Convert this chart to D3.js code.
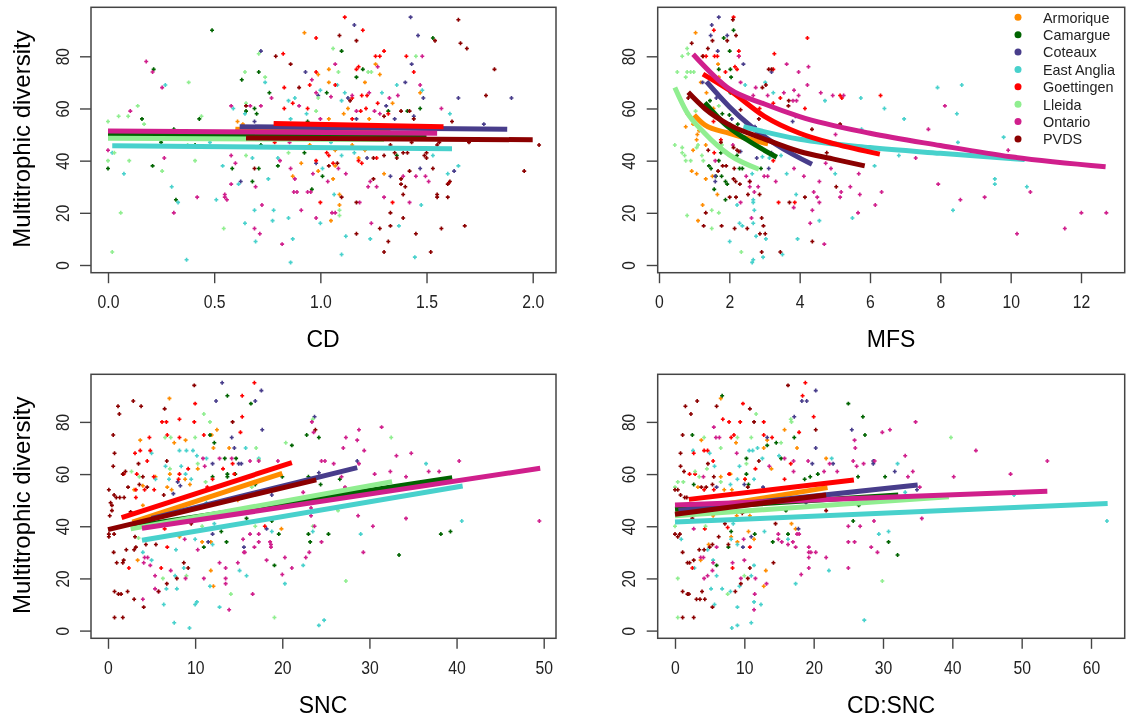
<!DOCTYPE html>
<html lang="en">

<head>
    <meta charset="utf-8">
    <script src="https://d3js.org/d3.v7.min.js"></script>
    <style>
        body { margin: 0; background: white; }
        svg { display: block; filter: blur(0.4px); font-family: "Liberation Sans", Arial, sans-serif; }
        .tick text { font-size: 17.5px; fill: #222; font-family: "Liberation Sans", Arial, sans-serif; }
        .tick line, .domain { stroke: #444; stroke-width: 1.4px; }
    </style>
</head>

<body>
    <div id="my_dataviz"></div>

    <script>
        const regions = ["Armorique", "Camargue", "Coteaux", "East Anglia", "Goettingen", "Lleida", "Ontario", "PVDS"];
        const regionColors = ["#ff8c00", "#006400", "#483d8b", "#48d1cc", "#ff0000", "#90ee90", "#d01f8c", "#8b0000"];

        // CD panel, points
        const cdArmorique = [[.925,89],[.99,73],[1.04,75],[1.26,77],[1.28,73],[1.04,70],[1.21,70],[1.13,60],[1.34,62],[1.11,58],[1.23,56],[1.04,56],[.61,55],[.635,54],[.61,52],[1.47,66],[1.15,46],[1.07,44],[1.3,35],[.87,34],[.91,39],[.99,36],[1.06,33],[1.07,38],[1.09,27],[1.09,23],[1.05,17],[1.18,41],[1.21,44],[.95,46]];
        const cdCamargue = [[.49,90],[.215,75],[1.1,82],[1.53,87],[.71,74],[.63,71],[.76,66],[1.17,72],[1.2,75],[.43,56],[.16,56],[1.47,60],[.65,59],[.69,60],[.7,58],[1.32,59],[1.41,59],[.94,55],[1.03,66],[0,37],[.21,38],[.25,47],[.32,25],[.585,37],[.71,37],[.68,32],[.8,38],[1.01,34],[.96,29],[.925,43],[1.36,42],[1.47,49.5],[.41,46],[.72,46],[.31,52]];
        const cdCoteaux = [[1.16,92],[1.425,95],[1.46,88],[.72,82],[.93,74],[1.43,77],[1.4,70],[.99,65],[1.65,64],[1.9,64],[1.485,64],[1.31,61],[1.13,64],[1.35,56],[1.17,56],[.69,55],[1.44,57],[1.77,54],[.625,32],[.98,39],[1.22,41],[1.33,34],[1.47,37],[1.63,36]];
        const cdEastAnglia = [[.27,69],[1,67],[.74,70],[1.36,69],[1.48,67],[1.29,66],[1.115,66],[.85,63],[.88,64],[.59,60],[1.1,63],[1.08,69],[1.61,58],[.645,58],[.86,56],[.935,58],[.02,43],[.075,35],[.3,30],[.33,24],[.51,25],[.54,38],[.48,47],[.68,41],[.755,33],[.615,31],[.8,41],[1.01,37],[1.1,42],[1.065,27],[.69,21],[.78,21],[.645,16],[.775,17],[.85,18],[1,16],[1.37,15],[1.475,23],[1.53,42],[1.6,35],[1.65,38],[1.05,47],[1.16,43],[.695,9],[.87,10],[1.12,11],[1.235,10],[1.1,4],[1.445,3],[.86,1],[.37,2]];
        const cdGoettingen = [[1.115,95],[1.2,90],[.98,87],[.825,81],[1.26,80],[1.28,80],[1.3,82],[1.405,80],[1.17,75],[1.18,76],[1.44,74],[.98,74],[.83,68],[1.07,69],[.95,69],[.83,60],[.87,62],[.94,60],[1.195,65],[1.22,65],[1.27,62],[1.215,60],[1.19,59],[1.32,58],[1.15,64],[1.15,56],[.785,47],[.98,40],[1.03,43],[1.06,39],[1.18,40],[1.195,39],[1.265,41],[1.04,42],[1.605,31.5],[1,24],[1.34,24]];
        const cdLleida = [[.71,81],[1.06,83],[1.45,80],[1.085,74],[1.225,74],[1.24,74],[.645,74],[.74,72],[.38,70],[.14,61],[.65,62],[0,55],[.05,57],[.095,57],[.17,54],[.44,57],[.99,64],[.98,59],[.03,43],[0,40],[.1,40],[.41,40],[.255,36],[.65,42],[.85,43],[1.09,21],[1.09,19],[.06,20],[.545,14],[.02,5],[.375,46]];
        const cdOntario = [[.18,78],[.21,74],[.255,68],[.105,59],[.58,61],[.67,61],[.72,61],[.77,64],[.9,61],[.96,71],[1.07,77],[1.48,80],[1.27,76],[1.47,69],[.98,66],[1.05,64.5],[1.15,65],[1.23,66],[1.365,65],[1.325,64],[1.57,60],[1.17,59],[1.255,59],[1.28,58],[1,56],[0,44],[.265,41],[.58,42],[.6,39],[.58,31],[.55,27],[.55,26],[.56,25],[.42,26],[.31,20],[.695,30],[.81,40],[.86,37],[.88,33],[.965,35],[1.035,32],[1.085,37],[1.12,35],[1.39,34],[1.45,34],[1.495,34],[1.51,32],[1.235,32],[1.225,30],[1.265,30],[1.3,26],[1.42,24],[1.185,24],[.875,28],[.89,28],[.94,28],[.955,28],[.91,21],[1.055,20],[1.07,20],[.98,18],[.725,23],[.69,14],[.715,12],[.82,8],[1.24,16],[.855,47]];
        const cdPVDS = [[1.09,88],[1.17,86],[1.54,86],[1.65,94],[1.66,85],[1.69,83],[1.82,75],[1.78,65],[.79,80],[.86,77],[.9,68],[.65,61],[1.3,57],[1.62,55],[1.38,59],[1.42,59],[1.14,63],[1.44,56],[2.03,46],[1.96,36],[1.7,47],[1.56,47],[1.43,47],[1.33,46],[1.35,43],[1.39,43],[1.36,41],[1.41,43],[1.3,42],[1.25,41],[1.5,43],[1.49,42],[1.5,41],[1.42,36],[1.38,33],[1.38,31],[1.4,30],[1.39,27],[1.53,37],[1.55,46],[1.55,27],[1.55,26],[1.6,26],[1.6,31],[1.61,32],[1.25,33],[1.17,24],[1.1,26],[1.04,38],[1.08,39],[1.33,20],[1.39,18],[1.28,14],[1.33,15],[1.68,15],[1.57,14],[1.45,12],[1.17,12],[1.32,9],[1.3,5],[1.52,5],[.69,37]];
        const cdLines = [
            [[.6,52],[1.33,51.5]],
            [[0,50.2],[1.5,49.4]],
            [[.62,53],[1.88,52]],
            [[.02,45.7],[1.62,44.6]],
            [[.78,54.2],[1.58,53]],
            [[0,48.6],[1.3,48.1]],
            [[0,51.4],[1.55,50.5]],
            [[.65,48.7],[2,48]]
        ];

        // MFS panel
        const mfsArmorique = [[1.04,89],[1.68,77],[1.19,70],[1.35,66],[.8,58],[.76,53],[.97,54],[1.14,51.5],[1.09,50],[.93,36],[1.07,35],[1.33,33],[1.52,34],[1.66,27],[1.24,23],[1.11,17],[.97,44],[1.33,46],[1.55,60],[2.48,62],[1.7,72],[1.07,48]];
        const mfsCamargue = [[1.84,87],[2.12,90],[2.01,82],[1.7,75],[2.03,75],[2.05,72],[2.03,66],[1.45,63],[2.22,42],[2.29,37],[2.37,37],[1.42,38],[1.48,37],[1.76,43],[1.62,34],[1.78,34],[1.57,29],[1.89,32],[1.94,31],[1.89,25],[2.9,37],[2.01,54],[2,57.5],[1.8,58],[2.24,54],[1.7,40]];
        const mfsCoteaux = [[1.7,95],[1.5,92],[1.94,88],[1.47,88],[1.67,82],[2.4,77],[3.2,74],[1.24,70],[1.63,64],[2.42,64],[2.73,53],[3.12,37],[1.6,32],[1.6,34],[3.2,43],[3.8,55],[3.88,57],[2.07,56],[2.78,41],[2.32,43.5]];
        const mfsEastAnglia = [[3.02,70],[2.45,69],[3.25,66],[4.72,63],[5.74,64],[6.41,60],[6.97,56],[7.92,68],[8.61,69],[8.47,58],[8.5,47],[5.76,52],[9.8,49],[6.13,38],[6.82,42],[9.55,33],[9.55,31],[10.46,30],[8.36,21],[5.5,18],[4.56,17],[3.94,10],[3.9,27],[3.63,35],[5.01,35],[2.65,35],[2.68,25],[2.22,23],[2.71,21],[2.29,16],[2.37,15],[2.68,16],[2.76,11],[3.04,10],[2.01,9],[2.96,3],[3.51,4],[2.68,2],[2.65,1],[2.94,41.5],[3.14,41],[3.47,42],[2.68,24]];
        const mfsGoettingen = [[2.12,95],[1.56,90],[4.22,87],[3.28,81],[2.27,82],[1.58,80],[1.66,80],[2.27,80],[1.26,80],[1.34,80],[1.89,74],[2.16,76],[2.22,75],[3.25,75],[5.15,65],[5.2,64],[6.3,65],[3.45,64],[3.25,62],[4.15,60],[2.86,60],[1.55,55],[3.4,24],[3.86,24],[3.25,40],[1.57,43],[1.76,48]];
        const mfsLleida = [[.8,83],[.66,80],[.83,81],[.52,74],[.8,74],[.9,74],[.99,74],[.76,72],[1.7,61],[1.04,59],[.45,46],[.66,45],[.66,43],[.76,40],[.9,40],[1.11,46],[1.07,45],[1.22,42],[1.26,40],[.73,42],[1.5,21],[1.7,20],[.8,19],[1.5,14],[2.34,5],[1.79,46]];
        const mfsOntario = [[2.27,80],[3.63,77],[4.25,76],[3.97,74],[2.32,70],[4.22,69],[2.75,68],[3.84,67],[3.55,66],[4.6,66],[3.09,65],[3.97,65],[4.94,65],[5.25,65],[3.81,63],[3.91,63],[2.68,65],[8.13,61],[7.66,52],[7.3,41],[9.93,44],[7.94,31],[8.57,25],[9.26,26],[10.56,28],[12.01,20],[12.72,20],[11.54,14],[10.18,12],[6.33,28],[6.15,23],[5.66,20],[5.71,27],[5.44,30],[5.18,28],[5.15,26],[5.68,35],[4.89,37],[4.74,39],[4.56,32],[4.4,28],[4.5,26],[4.56,24],[4.36,21],[4.3,16],[4.7,8],[3.84,37],[4.12,34],[3.83,22],[3.32,32],[3.09,34],[2.99,34],[2.48,34],[2.58,32],[2.58,30],[2.82,30],[2.71,28],[2.32,24],[2.63,18],[5.02,50],[2.1,46],[1.6,40]];
        const mfsPVDS = [[.93,85],[1.52,86],[1.39,83],[2.1,94],[2.19,88],[1.94,86],[1.24,80],[3.12,75],[3.2,75],[2.94,68],[3.04,69],[3.69,63],[3.68,61],[.83,64],[4.35,52],[5.15,54],[4.77,43],[5.04,30],[4.15,26],[3.71,24],[4.36,9],[3.45,5],[2.92,5],[2.97,15],[2.87,12],[3.02,12],[2.92,18],[2.51,14],[2.15,14],[1.78,15],[1.27,15],[1.33,20],[2.01,26],[2.19,26],[2.86,27],[2.53,27],[2.58,32],[2.3,31],[2.12,33],[2.18,32],[2.14,37],[2.27,43.5],[2.22,44],[2.12,45],[1.91,38],[1.81,38],[1.68,36],[1.4,44],[1.76,47],[2.99,50],[2.84,56],[2.32,59.5]];
        const mfsLines = [
            [[1,57.5],[1.3,53.7],[2,50.5],[3.1,46.4]],
            [[1.3,62.2],[1.9,53.7],[2.5,48],[3.35,41.3]],
            [[1.35,70.3],[2,60.7],[2.63,53],[3.35,46],[4.35,38.6]],
            [[2.4,53],[4,48.2],[6,45],[8,42.8],[10.4,40.4]],
            [[1.25,73.2],[2,67],[3,57],[4,50.5],[5,46.4],[6.28,42.5]],
            [[.45,68],[.78,58.8],[1.3,50.5],[2,42.2],[2.84,36.7]],
            [[.97,80.8],[2,67.5],[3,61.7],[4,56.9],[6,50.5],[8,45.8],[10,41.5],[12.7,37.7]],
            [[.83,66.2],[1.3,60],[2,53.7],[2.94,48.6],[4,43.5],[5,40.5],[5.85,38]]
        ];

        // SNC panel
        const sncArmorique = [[7.05,89],[12.5,77],[11.9,75],[3.7,73],[8.9,73],[7.6,72],[12.1,70],[13.9,70],[10.3,62],[8.85,58],[7.1,60],[4,55.5],[3,54],[6.8,55],[7.3,54],[5.45,59],[9.4,56],[14.9,50],[4,48],[19.9,39],[10.8,34],[11.8,34],[8.2,36],[3.4,27],[11.8,23],[12.1,17]];
        const sncCamargue = [[13.7,90],[16.4,87],[22.8,75],[24.2,74],[11.7,75],[21.1,71],[12.2,72],[13.4,66],[14.7,66],[13.7,60],[13.7,59],[14.6,60],[12,59],[20,59],[23,59],[24.4,56],[26.6,58],[16.9,56],[15.9,43],[18.8,42],[13,38],[13.6,34],[19.6,37],[23,37],[23.2,34],[25.3,37],[38.2,37],[39.3,38],[33.4,29],[19.1,25],[11,32]];
        const sncCoteaux = [[13.1,95],[17.6,92],[16.9,88],[12.4,88],[23.7,82],[17.7,77],[14.2,74],[14.5,70],[12,64],[15,64],[15.3,64],[24.2,60.5],[28.6,65],[8,57],[8.3,55.5],[7.5,52.5],[18.8,52],[18.2,39],[12,37],[15.6,32],[11.5,34]];
        const sncEastAnglia = [[5,68],[8.2,69],[9,69],[9.75,69],[10.2,67],[6.6,63],[8.4,63],[8.9,60],[15.8,70],[17.3,66],[11.3,66],[36.5,64],[7,58],[9.55,58],[5.45,58],[11.3,49],[12.2,41],[40.6,42],[29,37],[23.5,38],[18.8,38],[10,35],[12,33],[4,30],[5,27],[8.7,24],[15.1,23],[22.4,25],[7.7,21],[15.9,21],[20.3,18],[6.7,16],[7.9,16],[11.7,17],[6.4,10],[10,10],[10.2,11],[12.8,9],[7.6,3],[9.35,1],[24.2,2],[24.8,4],[7.8,31]];
        const sncGoettingen = [[16.8,95],[15.4,90],[10,87],[15.4,82],[6.2,80],[6.7,80],[9.9,80],[8.2,81],[4.75,74],[6.8,75],[8.2,74],[11,75],[3.7,69],[3.1,68],[4.85,69],[4.5,65],[15.2,76],[13.2,62],[9.2,62],[1.8,60],[3.3,60],[5.25,59],[8.2,60],[8.1,58],[14.3,64],[14.5,60],[12,58],[11.4,55],[3.2,54],[4.2,54],[3.2,51],[5.3,54],[6.5,39],[18,40],[6.8,32],[2.4,24],[6.1,24]];
        const sncLleida = [[11,83],[11.7,80],[23.5,81],[32.5,74],[20.4,72],[6.55,74],[7.2,74],[10,74],[17,70],[17.3,65.5],[2.7,61],[7.1,62],[10.3,64],[3.6,59],[11.2,57],[16.5,55],[26.4,46],[16.9,40],[10.8,40],[23.5,40],[27.3,19],[19.1,5],[9,21],[6.3,20],[14.1,14],[3.5,35.5]];
        const sncOntario = [[23.4,80],[28.8,77],[23.6,76],[31.4,78],[27.3,74],[28.6,73],[27,70],[29.4,69],[33.1,67],[34.8,68],[24.5,65],[24.9,65],[25.9,64],[28.8,64],[40.3,65],[36.8,61],[38,61],[32.4,61],[30.6,60],[34.2,59],[26.8,59],[19.5,65],[16.3,65],[17.3,65],[12.8,66],[10.9,66],[11.1,63],[14.2,66],[22.4,53],[27.2,55],[28.7,44],[34.2,43],[30.4,40],[49.5,42],[29.3,30],[24.5,34],[23.7,40],[23.3,47],[23.3,44],[23.1,30],[22.7,28],[20.3,28],[18.2,27],[20,21.5],[21.1,24],[18.7,33],[18.7,32],[18.6,34],[17.3,34],[17.3,37],[16.3,37],[16.8,32],[15.5,35],[15.6,30],[15.7,30],[14.9,26],[13.5,24],[12.8,26],[13.5,20],[13.5,18],[13.9,8],[16.6,14],[11,20],[10.3,31],[8.8,35],[8.9,20],[7.2,23],[5.4,21],[5.4,16],[5.8,15],[4,12],[4.2,28],[4.55,28],[4.1,26],[4.85,25]];
        const sncPVDS = [[9.9,94],[2.9,88],[1.15,86],[3.8,86],[6.5,85],[1.3,83],[14.3,80],[23.8,77],[.6,75],[.75,68],[.6,63],[6.75,65],[3.5,64],[2,61],[1.7,60],[4,59],[2.3,55],[3.6,56],[4.5,55],[.1,54],[6.4,52],[.7,52],[.95,51],[1.35,51],[1.85,51],[.3,49],[.45,48],[.45,46],[.2,44],[2.6,45.5],[.1,37],[.1,36],[.7,37],[3.1,36],[.65,30],[4.35,33],[5.5,33],[2.1,31],[3,31],[3.2,32],[1,26],[1.7,26],[1.8,27],[8.7,26],[9.2,24],[7.9,20],[6.75,18],[.75,15],[2.25,15],[1.2,14],[1.5,14],[3,12],[5.8,15],[4.1,9],[.75,5],[1.7,5],[9.55,41]];
        const sncLines = [
            [[2.8,41.6],[20,60.3]],
            [[3,40],[39.5,58.6]],
            [[5,43],[28.6,62.5]],
            [[3.9,34.6],[40.7,55.4]],
            [[1.56,43.3],[21.1,64.4]],
            [[2.6,39],[32.6,57.1]],
            [[3.9,39.2],[49.6,62.2]],
            [[0,38.7],[23.9,57.8]]
        ];

        // CD:SNC panel
        const csArmorique = [[6.6,89],[15.8,77],[17.6,70],[3.8,73],[8.8,72],[13.3,73],[12.8,70],[13.9,62],[21.8,66],[10.1,58],[6.6,59],[8,60],[3.3,55],[7.1,54],[8.2,54],[5.5,44],[8.9,44],[10.8,44],[16.8,41],[17.4,39],[4.85,33],[11.4,35],[10.6,38],[8.1,36],[9,34],[3.7,27],[13.1,23],[12.8,17]];
        const csCamargue = [[6.8,90],[25,87],[27.1,82],[27.4,75],[2.5,75],[17.2,74],[14.6,72],[13.3,71],[10.3,66],[15.3,66],[10.3,60],[20.6,60],[18.7,58],[19.5,59],[26.4,59],[30.3,59],[2.7,56],[10.6,56],[26.5,48],[16,46],[25.7,42],[16.3,37],[11.5,37],[14.1,34],[30.8,34],[32.1,29],[7.7,32],[8.1,38],[6,25]];
        const csCoteaux = [[20.3,92],[18.3,88],[19,88],[17.2,82],[25.5,77],[20.3,70],[13.3,74],[19.8,64],[22.8,64],[28.6,65],[28.6,64],[31.7,61],[34.9,54],[12.7,55],[6,55],[10,56],[9.8,32],[11,36],[17.8,39],[18.9,49]];
        const csEastAnglia = [[2.6,69],[5,68],[5.7,63],[9.3,63],[10.7,69],[11.2,69],[11.9,70],[12.6,66],[15,67],[22.6,66],[32.1,64],[11.4,58],[9,58],[8,56],[33.2,53],[48.9,52],[62.3,42],[29.4,37],[30.8,38],[12.9,38],[8.4,41],[.9,35],[8.1,35],[9,33],[16.3,35],[4.7,31],[5.5,27],[2.8,24],[11.4,25],[22.2,23],[6,21],[11,21],[17.4,18],[5.2,16],[6.8,16],[9.3,17],[8,15],[5.7,10],[11.4,11],[12.4,10],[9,9],[8.2,1],[9,2],[11,3],[27.3,4]];
        const csGoettingen = [[18.8,95],[18.4,90],[9.8,87],[20,82],[6.9,81],[7.8,80],[9.4,80],[12.8,80],[17.9,76],[8.5,75],[12.8,75],[8.1,74],[14,74],[4.2,69],[4.7,69],[2.7,68],[5.5,65],[16.7,64],[11.6,62],[2.1,60],[2.9,60],[7.8,60],[10.1,58],[15.8,58],[4.2,54],[5.6,54],[7.6,39.5],[4.3,39],[10.8,32],[8.3,24],[2.5,24]];
        const csLleida = [[11.7,83],[16.7,81],[16.8,80],[39.8,74],[4.2,74],[9,74],[11,74],[15.3,72],[6.6,70],[10.3,64],[0,55],[.4,57],[1.2,57],[2.9,61],[4.6,62],[6.6,57],[3.5,59],[0,40],[4.4,40],[.4,20],[10,21],[7.6,14],[29.9,19],[.4,5]];
        const csOntario = [[34.7,80],[29.9,76],[31,77],[25.9,73],[26,70],[43.4,69],[33.2,67],[53.7,65],[25.7,65],[19.2,65],[28.8,65],[26.2,63],[27.2,64],[17.1,65],[15.8,66],[13.6,63],[6.4,74],[5.9,74],[5.6,78],[8.9,68],[22.3,64],[23.4,61],[21.5,61],[17.1,61],[34.3,61],[33.6,59],[40.2,59],[48.4,60],[35.3,55],[35.6,43],[28.7,42],[26.7,40],[25,40],[25,34],[25.9,34],[28.3,32],[29.2,30],[25,24],[21.8,28],[19.3,32],[19.3,30],[19.6,30],[20.3,30],[19.3,28],[19.3,24],[18.2,21.5],[17.4,32],[17,34],[16.3,33],[14.9,37],[14.9,35],[15.4,34],[17.6,37],[17.9,37],[13.2,18],[11.6,20],[11.5,14],[11.4,8],[10,27],[8.3,26],[9.5,20],[9.9,35],[6,32],[5.5,26],[5.4,23],[4.7,21],[4.2,20],[4.1,28],[3.7,28],[2.7,39],[4.1,59]];
        const csPVDS = [[16.3,94],[3.2,88],[1.5,86],[6,86],[10.8,85],[2.3,83],[11.4,80],[20.3,77],[1.1,75],[.8,68],[.8,63],[1.3,61],[12.1,65],[4.75,64],[5.6,59],[3.8,55],[4.5,55],[5.4,56],[10.5,55],[0,54],[.4,54],[.8,52],[1.4,51],[1.7,51],[21.8,46],[2.5,43],[9.7,45],[14.5,41],[7.2,41],[0,37],[.4,36],[.7,37],[6.3,36],[3.5,31],[4.2,31],[5,32],[5.4,33],[1.1,30],[1.8,26],[2.1,26],[2.7,27],[14.2,26],[10.8,24],[10.5,20],[9.5,18],[8.7,15],[1.1,15],[3.9,15],[1.8,14],[2,14],[3.1,12],[3.6,12],[4.3,12],[5.4,9],[1.1,5],[2.7,5],[7.7,33]];
        const csLines = [
            [[.2,45.5],[22,54.8]],
            [[0,46.5],[32.2,52]],
            [[.5,46],[35,55.8]],
            [[0,41.6],[62.4,48.7]],
            [[2,50.3],[25.8,57.7]],
            [[0,44],[39.5,51.3]],
            [[0,48.1],[53.7,53.4]],
            [[0,44.6],[21.8,52]]
        ];

        const yTicks = [0, 20, 40, 60, 80];
        const cdTicks = [0, 0.5, 1, 1.5, 2];
        const mfsTicks = [0, 2, 4, 6, 8, 10, 12];
        const sncTicks = [0, 10, 20, 30, 40, 50];
        const csTicks = [0, 10, 20, 30, 40, 50, 60];

        const width = 1127, height = 725;

        const svg = d3.select("#my_dataviz")
            .append("svg")
            .attr("width", width)
            .attr("height", height);

        // box edges and the pixel span of the first and last tick of each panel
        const panels = [
            { label: "CD", ylab: true, box: [91, 556, 7.3, 272.7], x0: 108, x1: 532.7, dom: [0, 2], ticks: cdTicks, fmt: d3.format(".1f"), pts: [cdArmorique, cdCamargue, cdCoteaux, cdEastAnglia, cdGoettingen, cdLleida, cdOntario, cdPVDS], lines: cdLines, labelX: 323, labelY: 347 },
            { label: "MFS", ylab: false, box: [657.7, 1124.7, 7.3, 272.7], x0: 659, x1: 1081, dom: [0, 12], ticks: mfsTicks, fmt: d3.format("d"), pts: [mfsArmorique, mfsCamargue, mfsCoteaux, mfsEastAnglia, mfsGoettingen, mfsLleida, mfsOntario, mfsPVDS], lines: mfsLines, labelX: 891, labelY: 347 },
            { label: "SNC", ylab: true, box: [91, 556, 374.3, 638.3], x0: 108, x1: 543.7, dom: [0, 50], ticks: sncTicks, fmt: d3.format("d"), pts: [sncArmorique, sncCamargue, sncCoteaux, sncEastAnglia, sncGoettingen, sncLleida, sncOntario, sncPVDS], lines: sncLines, labelX: 323, labelY: 713 },
            { label: "CD:SNC", ylab: false, box: [657.7, 1124.7, 374.3, 638.3], x0: 675, x1: 1091, dom: [0, 60], ticks: csTicks, fmt: d3.format("d"), pts: [csArmorique, csCamargue, csCoteaux, csEastAnglia, csGoettingen, csLleida, csOntario, csPVDS], lines: csLines, labelX: 891, labelY: 713 }
        ];

        // symbolPlus is a stroked symbol in d3 v7
        const plus = d3.symbol().type(d3.symbolPlus).size(6);

        panels.forEach(p => {
            const [left, right, top, bottom] = p.box;
            const x = d3.scaleLinear().domain(p.dom).range([p.x0, p.x1]);
            // 0 sits 7.7px above the box bottom, 80 sits 208.7px above that
            const y = d3.scaleLinear().domain([0, 80]).range([bottom - 7.7, bottom - 7.7 - 208.7]);

            p.pts.forEach((pts, i) => {
                svg.append("g").selectAll("path")
                    .data(pts)
                    .join("path")
                    .attr("d", plus)
                    .attr("transform", d => `translate(${x(d[0])},${y(d[1])})`)
                    .attr("fill", "none")
                    .attr("stroke", regionColors[i])
                    .attr("stroke-width", 1.6);
            });

            const line = d3.line().x(d => x(d[0])).y(d => y(d[1])).curve(d3.curveMonotoneX);
            p.lines.forEach((l, i) => {
                svg.append("path")
                    .attr("d", line(l))
                    .attr("fill", "none")
                    .attr("stroke", regionColors[i])
                    .attr("stroke-width", 5);
            });

            svg.append("rect")
                .attr("x", left).attr("y", top)
                .attr("width", right - left).attr("height", bottom - top)
                .attr("fill", "none")
                .attr("stroke", "#444")
                .attr("stroke-width", 1.5);

            // axes
            const xAxis = svg.append("g")
                .attr("transform", `translate(0,${bottom})`)
                .call(d3.axisBottom(x).tickValues(p.ticks).tickFormat(p.fmt).tickSize(10.5).tickSizeOuter(0));
            xAxis.select(".domain").remove();
            xAxis.selectAll("text")
                .attr("x", 0).attr("y", 0).attr("dy", 0)
                .attr("transform", "translate(0,35.6) scale(0.9,1)");

            const yAxis = svg.append("g")
                .attr("transform", `translate(${left},0)`)
                .call(d3.axisLeft(y).tickValues(yTicks).tickSize(11).tickSizeOuter(0));
            yAxis.select(".domain").remove();
            yAxis.selectAll("text")
                .attr("x", 0).attr("dy", 0).attr("y", 0)
                .attr("text-anchor", "middle")
                .attr("transform", "translate(-22.5,0) rotate(-90) scale(0.88,1)");

            svg.append("text")
                .attr("text-anchor", "middle")
                .attr("x", p.labelX).attr("y", p.labelY)
                .style("font-size", "23px")
                .text(p.label);

            if (p.ylab) {
                svg.append("text")
                    .attr("text-anchor", "middle")
                    .attr("transform", `translate(30,${(top + bottom) / 2 - 1}) rotate(-90)`)
                    .style("font-size", "24px")
                    .text("Multitrophic diversity");
            }
        });

        // legend sits in the MFS panel
        const legend = svg.append("g");
        const legendY = d3.scalePoint().domain(regions).range([17.3, 139]);

        legend.selectAll("circle")
            .data(regions)
            .join("circle")
            .attr("cx", 1018)
            .attr("cy", d => legendY(d))
            .attr("r", 3.5)
            .attr("fill", (d, i) => regionColors[i]);

        legend.selectAll("text")
            .data(regions)
            .join("text")
            .attr("x", 1043)
            .attr("y", d => legendY(d) + 1.5)
            .attr("dominant-baseline", "middle")
            .style("font-size", "14.4px")
            .style("fill", "#222")
            .text(d => d);
    </script>

</body>

</html>
